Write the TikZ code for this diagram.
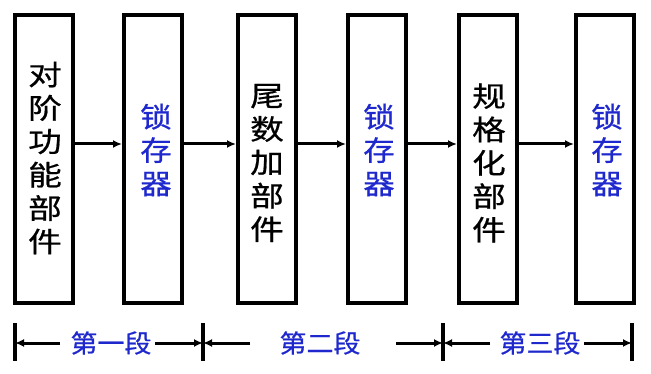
\documentclass[tikz,border=0pt]{standalone}
\usepackage{fontspec}
\setmainfont{Noto Sans CJK SC}
\newfontfamily\heavycjk{Noto Sans CJK SC}[FakeBold=0.6]
\usetikzlibrary{arrows.meta}
\definecolor{lblue}{RGB}{30,40,205}
\begin{document}
\begin{tikzpicture}[x=1pt,y=-1pt,
  box/.style={draw=black,line width=4pt,minimum width=58pt,minimum height=288pt,inner sep=0pt},
  vtext/.style={align=center,inner sep=0pt,font=\heavycjk\fontsize{28}{33.4}\selectfont},
  btext/.style={vtext,text=lblue},
  seglbl/.style={inner sep=0pt,text=lblue,font=\heavycjk\fontsize{25}{28}\selectfont},
  arr/.style={line width=3pt,-{Latex[length=9pt,width=8pt]}},
  bar/.style={line width=3.2pt}]
\useasboundingbox (0,0) rectangle (651,374);
% boxes
\node[box] (b1) at (44,159) {};
\node[box] (b2) at (153,159) {};
\node[box] (b3) at (267,159) {};
\node[box] (b4) at (377,159) {};
\node[box] (b5) at (488,159) {};
\node[box] (b6) at (605,159) {};
% texts
\node[vtext] (t1) at (45,158) {\scalebox{1.2}[1]{\parbox{1em}{\centering 对\\阶\\功\\能\\部\\件}}};
\node[btext] (t2) at (156,150) {\scalebox{1.12}[1]{\parbox{1em}{\centering 锁\\存\\器}}};
\node[vtext] (t3) at (267,163) {\scalebox{1.2}[1]{\parbox{1em}{\centering 尾\\数\\加\\部\\件}}};
\node[btext] (t4) at (379,150) {\scalebox{1.12}[1]{\parbox{1em}{\centering 锁\\存\\器}}};
\node[vtext] (t5) at (489,163) {\scalebox{1.2}[1]{\parbox{1em}{\centering 规\\格\\化\\部\\件}}};
\node[btext] (t6) at (607,150) {\scalebox{1.12}[1]{\parbox{1em}{\centering 锁\\存\\器}}};
% arrows between boxes
\draw[arr] (b1.east |- 0,144) -- (b2.west |- 0,144);
\draw[arr] (b2.east |- 0,144) -- (b3.west |- 0,144);
\draw[arr] (b3.east |- 0,144) -- (b4.west |- 0,144);
\draw[arr] (b4.east |- 0,144) -- (b5.west |- 0,144);
\draw[arr] (b5.east |- 0,144) -- (b6.west |- 0,144);
% stage bars
\coordinate (p0) at (15,343);
\coordinate (p1) at (203,343);
\coordinate (p2) at (443,343);
\coordinate (p3) at (632,343);
\foreach \p in {p0,p1,p2,p3} \draw[bar] ([yshift=-18pt]\p) -- ([yshift=20pt]\p);
% stage labels
\node[seglbl] (s1) at (111,343) {\scalebox{1.08}[1]{第一段}};
\node[seglbl] (s2) at (320,343) {\scalebox{1.08}[1]{第二段}};
\node[seglbl] (s3) at (540,343) {\scalebox{1.08}[1]{第三段}};
\coordinate (a1l) at (60,343);
\coordinate (a1r) at (155,343);
\coordinate (a2l) at (250,343);
\coordinate (a2r) at (396,343);
\coordinate (a3l) at (490,343);
\coordinate (a3r) at (584,343);
\draw[arr] (a1l) -- (p0);
\draw[arr] (a1r) -- (p1);
\draw[arr] (a2l) -- (p1);
\draw[arr] (a2r) -- (p2);
\draw[arr] (a3l) -- (p2);
\draw[arr] (a3r) -- (p3);
\end{tikzpicture}
\end{document}
